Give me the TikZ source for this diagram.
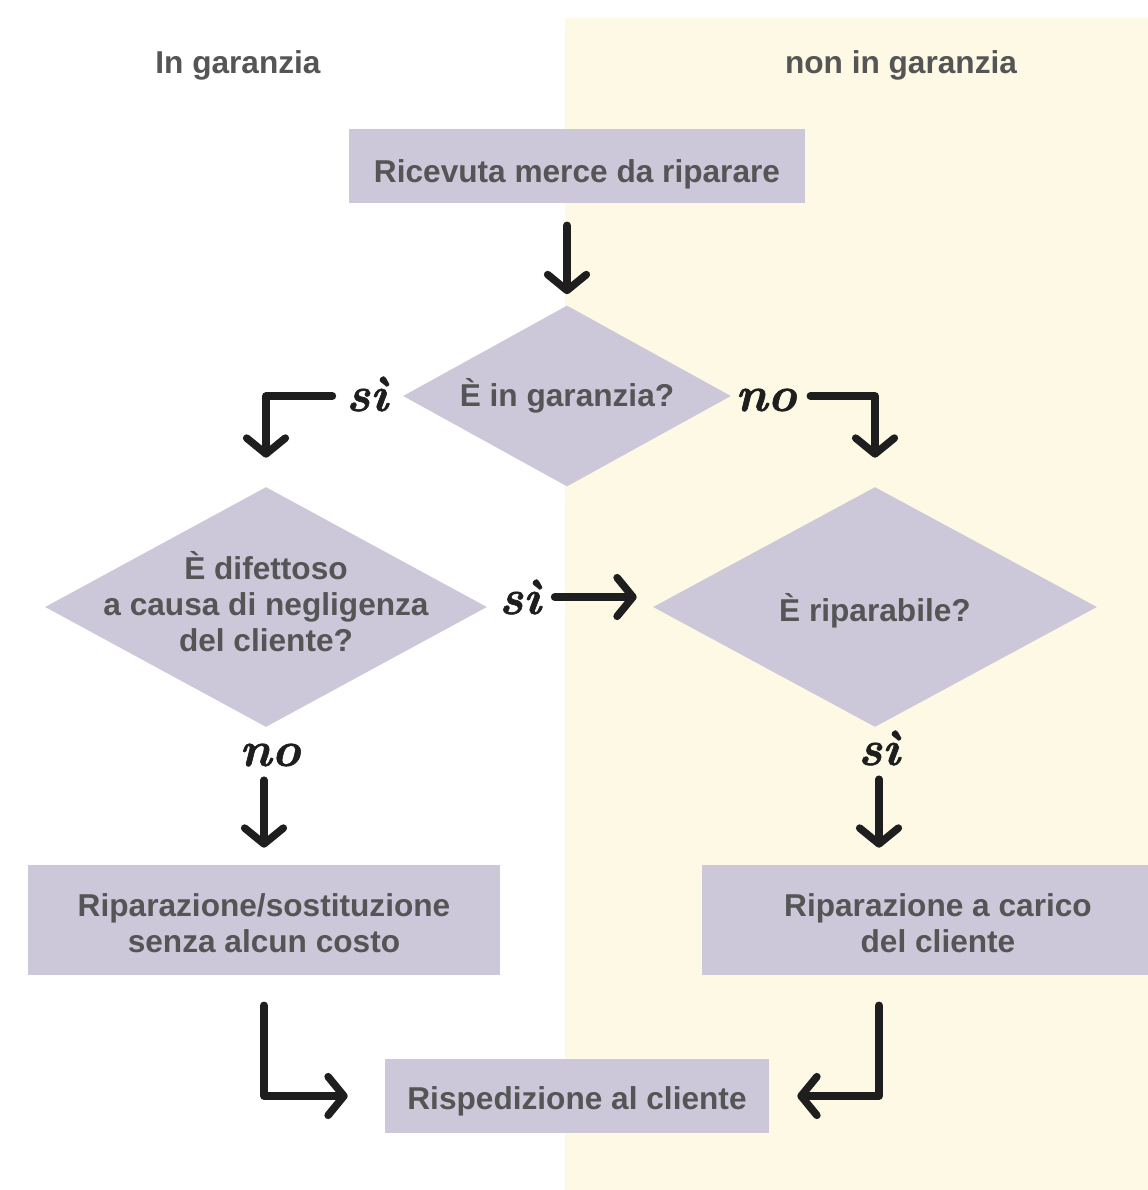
\documentclass[tikz,border=0pt]{standalone}
\usepackage{xcolor}
\usepackage{fontspec}
\usepackage{tikz}
\usetikzlibrary{shapes.geometric,arrows.meta}
\newfontfamily\helv{Liberation Sans}
\newfontface\answerfont{lmroman10-bolditalic.otf}[FakeBold=1.2]
\definecolor{lilac}{HTML}{CCC8DA}
\definecolor{cream}{HTML}{FEF9E4}
\definecolor{textgray}{HTML}{555555}
\definecolor{ink}{HTML}{1E1E1E}

\begin{document}
\begin{tikzpicture}[x=0.02cm, y=-0.02cm,
    box/.style={rectangle, fill=lilac, inner sep=0pt},
    decision/.style={diamond, fill=lilac, inner sep=0pt},
    txt/.style={font=\helv\bfseries\fontsize{18}{20.5}\selectfont, text=textgray, align=center},
    lbl/.style={font=\answerfont\fontsize{28}{30}\selectfont, text=ink, inner sep=2pt},
    flow/.style={-{Straight Barb[round, length=9pt, width=22pt]}, line width=4.3pt, draw=ink, line cap=round, line join=round}]
    \useasboundingbox (0,0) rectangle (1148,1190);
    \clip (0,0) rectangle (1148,1190);

    % Background
    \fill[white] (0,0) rectangle (1148,1190);
    \fill[cream] (565,18) rectangle (1148,1190);

    % Column heads
    \node[txt] (inwarranty) at (238,65) {In garanzia};
    \node[txt] (outwarranty) at (901,65) {non in garanzia};

    % Steps
    \node[box, minimum width=9.12cm, minimum height=1.48cm] (received) at (577,166) {};
    \node[txt] at ([yshift=-0.16cm]received.center) {Ricevuta merce da riparare};
    \node[decision, minimum width=6.56cm, minimum height=3.62cm] (inwar) at (567,396) {};
    \node[txt] at (inwar) {È in garanzia?};
    \node[decision, minimum width=8.84cm, minimum height=4.8cm] (defect) at (266,607) {};
    \node[txt] at ([yshift=0.1cm]defect.center) {È difettoso\\a causa di negligenza\\del cliente?};
    \node[decision, minimum width=8.88cm, minimum height=4.8cm] (repairable) at (875,607) {};
    \node[txt] at ([yshift=-0.08cm]repairable.center) {È riparabile?};
    \node[box, minimum width=9.44cm, minimum height=2.2cm] (free) at (264,920) {};
    \node[txt] at ([yshift=-0.06cm]free.center) {Riparazione/sostituzione\\senza alcun costo};
    \node[box, minimum width=9.44cm, minimum height=2.2cm] (paid) at (938,920) {};
    \node[txt] at ([yshift=-0.06cm]paid.center) {Riparazione a carico\\del cliente};
    \node[box, minimum width=7.68cm, minimum height=1.48cm] (shipback) at (577,1096) {};
    \node[txt] at ([yshift=-0.1cm]shipback.center) {Rispedizione al cliente};

    % Answers
    \node[lbl] (yesA) at (367,394) {sì};
    \node[lbl] (noA) at (766,400) {no};
    \node[lbl] (yesB) at (520,597) {sì};
    \node[lbl] (noB) at (270,755) {no};
    \node[lbl] (yesC) at (879,748) {sì};

    % Connectors
    \draw[flow, shorten <=0.44cm, shorten >=0.22cm] (inwar.north |- received.south) -- (inwar.north);
    \draw[flow, shorten <=0.2cm, shorten >=0.58cm] (yesA.west |- inwar.west) -| (defect.north);
    \draw[flow, shorten <=0.2cm, shorten >=0.58cm] (noA.east |- inwar.east) -| (repairable.north);
    \draw[flow, shorten <=0.2cm, shorten >=0.32cm] (yesB.east) -- (yesB.east -| repairable.west);
    \draw[flow, shorten <=0.2cm, shorten >=0.34cm] (free.north |- noB.south) -- (free.north);
    \draw[flow, shorten <=0.2cm, shorten >=0.34cm] (yesC.south) -- (yesC.south |- paid.north);
    \draw[flow, shorten <=0.6cm, shorten >=0.74cm] (free.south) |- (shipback.west);
    \draw[flow, shorten <=0.6cm, shorten >=0.56cm] (yesC |- paid.south) |- (shipback.east);
\end{tikzpicture}
\end{document}
